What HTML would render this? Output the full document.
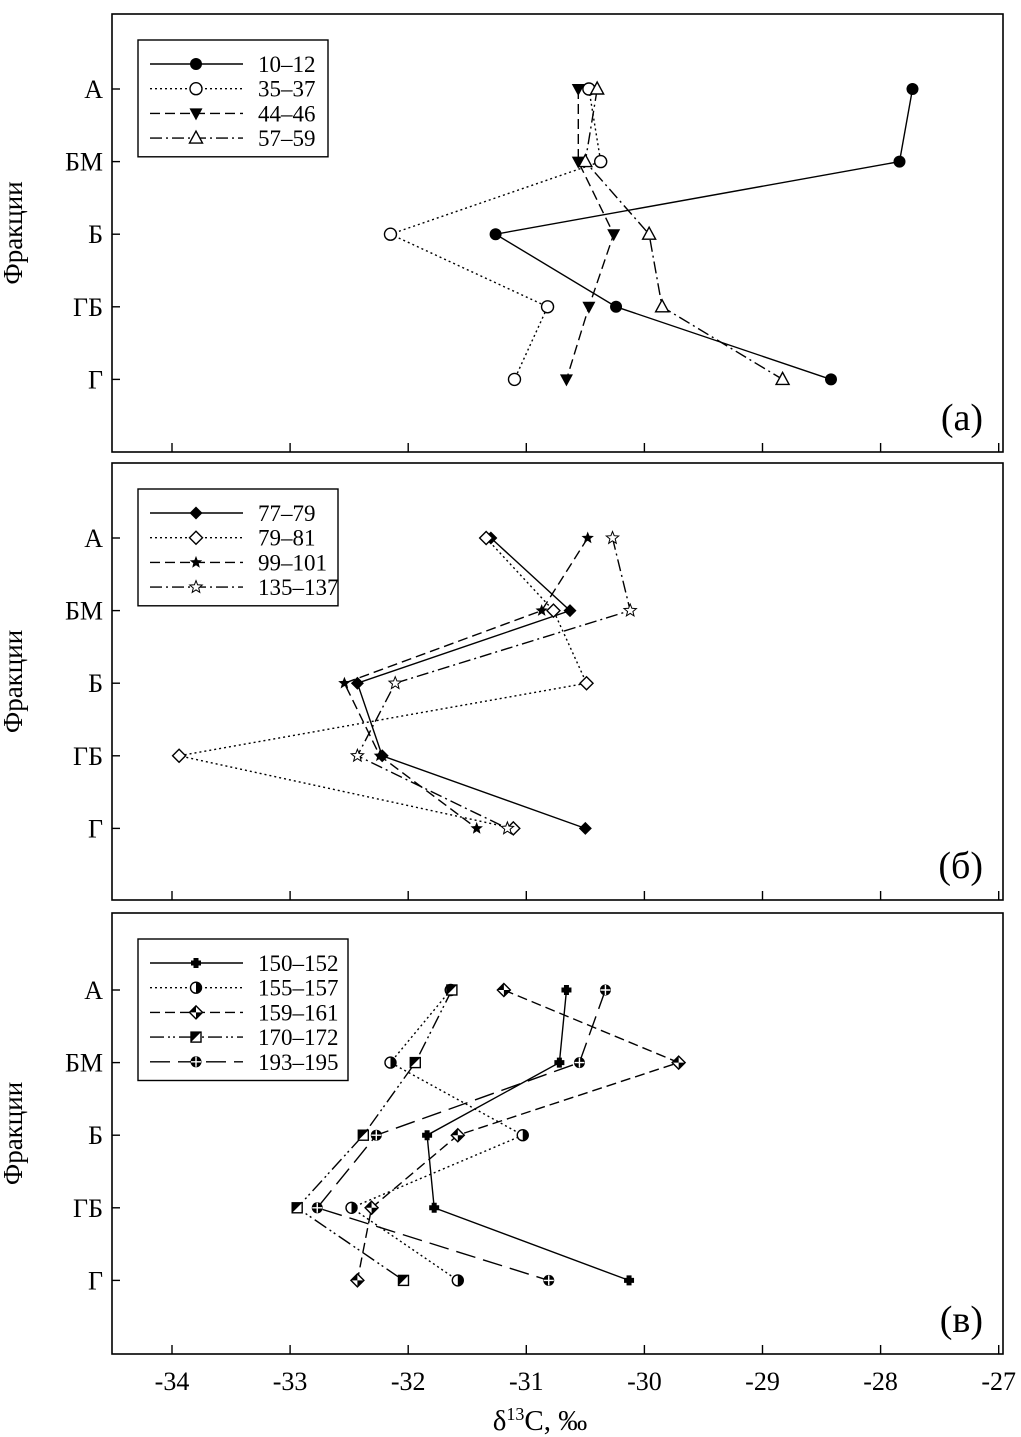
<!DOCTYPE html>
<html><head><meta charset="utf-8"><style>
html,body{margin:0;padding:0;background:#fff}
svg{display:block;font-family:"Liberation Serif",serif}
</style></head><body>
<svg id="chart" width="1021" height="1437" viewBox="0 0 1021 1437" xmlns="http://www.w3.org/2000/svg"></svg>
<script>
const fractions = ["А","БМ","Б","ГБ","Г"];
const xTicks = [-34,-33,-32,-31,-30,-29,-28,-27];
const panelLabels = ["(а)","(б)","(в)"];
const seriesA_names = ["10–12","35–37","44–46","57–59"];
const s10_12 = [-27.73,-27.84,-31.26,-30.24,-28.42];
const s35_37 = [-30.47,-30.37,-32.15,-30.82,-31.10];
const s44_46 = [-30.56,-30.56,-30.26,-30.47,-30.66];
const s57_59 = [-30.40,-30.50,-29.96,-29.85,-28.83];
const seriesB_names = ["77–79","79–81","99–101","135–137"];
const s77_79 = [-31.30,-30.63,-32.43,-32.22,-30.50];
const s79_81 = [-31.34,-30.77,-30.49,-33.94,-31.11];
const s99_101 = [-30.48,-30.87,-32.54,-32.24,-31.42];
const s135_137 = [-30.27,-30.12,-32.11,-32.43,-31.16];
const seriesC_names = ["150–152","155–157","159–161","170–172","193–195"];
const s150_152 = [-30.66,-30.72,-31.84,-31.78,-30.13];
const s155_157 = [-31.64,-32.15,-31.03,-32.48,-31.58];
const s159_161 = [-31.19,-29.71,-31.58,-32.31,-32.43];
const s170_172 = [-31.63,-31.94,-32.38,-32.94,-32.04];
const s193_195 = [-30.33,-30.55,-32.27,-32.77,-30.81];

const NS="http://www.w3.org/2000/svg";
const svg=document.getElementById('chart');
function mk(tag,attrs,parent){const e=document.createElementNS(NS,tag);for(const k in attrs)e.setAttribute(k,attrs[k]);(parent||svg).appendChild(e);return e;}
const X0=112,X1=1003;
function xs(v){return 172+(v+34)*118.1;}
const panels=[{top:14,bot:452,rowA:89},{top:463,bot:900,rowA:538},{top:913,bot:1354,rowA:990}];
const rowStep=72.6;

const styles={
 solid:"none",dot:"2,3",dash:"10,5",dashdot:"12,4,2,4",dashdotdot:"14,4,2,3,2,4",longdash:"20,8"
};
const panelSeries=[
 [{n:seriesA_names[0],d:s10_12,ls:"solid",m:"circleF"},{n:seriesA_names[1],d:s35_37,ls:"dot",m:"circleO"},{n:seriesA_names[2],d:s44_46,ls:"dash",m:"triDown"},{n:seriesA_names[3],d:s57_59,ls:"dashdot",m:"triUpO"}],
 [{n:seriesB_names[0],d:s77_79,ls:"solid",m:"diamF"},{n:seriesB_names[1],d:s79_81,ls:"dot",m:"diamO"},{n:seriesB_names[2],d:s99_101,ls:"dash",m:"starF"},{n:seriesB_names[3],d:s135_137,ls:"dashdot",m:"starO"}],
 [{n:seriesC_names[0],d:s150_152,ls:"solid",m:"plus"},{n:seriesC_names[1],d:s155_157,ls:"dot",m:"circleHalf"},{n:seriesC_names[2],d:s159_161,ls:"dash",m:"diamHalf"},{n:seriesC_names[3],d:s170_172,ls:"dashdotdot",m:"sqHalf"},{n:seriesC_names[4],d:s193_195,ls:"longdash",m:"circleX"}]
];
function marker(g,type,x,y){
 const s={stroke:"#000","stroke-width":1.4};
 function star(r1,r2){let p=[];for(let i=0;i<10;i++){const a=-Math.PI/2+i*Math.PI/5,r=i%2?r2:r1;p.push((x+r*Math.cos(a)).toFixed(1)+","+(y+r*Math.sin(a)).toFixed(1));}return p.join(" ");}
 switch(type){
 case"circleF":mk('circle',{cx:x,cy:y,r:6,fill:"#000"},g);break;
 case"circleO":mk('circle',{cx:x,cy:y,r:6,fill:"#fff",...s},g);break;
 case"triDown":mk('polygon',{points:`${x-6.5},${y-5} ${x+6.5},${y-5} ${x},${y+7}`,fill:"#000"},g);break;
 case"triUpO":mk('polygon',{points:`${x-6.5},${y+5} ${x+6.5},${y+5} ${x},${y-7}`,fill:"#fff",...s},g);break;
 case"diamF":mk('polygon',{points:`${x},${y-6.5} ${x+6.5},${y} ${x},${y+6.5} ${x-6.5},${y}`,fill:"#000"},g);break;
 case"diamO":mk('polygon',{points:`${x},${y-6.5} ${x+6.5},${y} ${x},${y+6.5} ${x-6.5},${y}`,fill:"#fff",...s},g);break;
 case"starF":mk('polygon',{points:star(6.5,2.8),fill:"#000"},g);break;
 case"starO":mk('polygon',{points:star(6.5,2.8),fill:"#fff",stroke:"#000","stroke-width":1},g);break;
 case"plus":mk('path',{d:`M${x-5} ${y}H${x+5}M${x} ${y-5}V${y+5}`,stroke:"#000","stroke-width":5},g);break;
 case"circleHalf":mk('circle',{cx:x,cy:y,r:5.5,fill:"#fff",...s},g);mk('path',{d:`M${x} ${y-5.5}A5.5 5.5 0 0 1 ${x} ${y+5.5}Z`,fill:"#000"},g);break;
 case"diamHalf":mk('polygon',{points:`${x},${y-6.5} ${x+6.5},${y} ${x},${y+6.5} ${x-6.5},${y}`,fill:"#fff",...s},g);mk('polygon',{points:`${x},${y-6.5} ${x-6.5},${y} ${x},${y}`,fill:"#000"},g);mk('polygon',{points:`${x},${y+6.5} ${x+6.5},${y} ${x},${y}`,fill:"#000"},g);break;
 case"sqHalf":mk('rect',{x:x-5,y:y-5,width:10,height:10,fill:"#fff",...s},g);mk('polygon',{points:`${x-5},${y-5} ${x+5},${y-5} ${x-5},${y+5}`,fill:"#000"},g);break;
 case"circleX":mk('circle',{cx:x,cy:y,r:5.5,fill:"#000"},g);mk('path',{d:`M${x-5} ${y}H${x+5}M${x} ${y-5}V${y+5}`,stroke:"#fff","stroke-width":1.4},g);break;
 }
}
const panelNames=["panel-a","panel-b","panel-c"];
panels.forEach((p,pi)=>{
 const g=mk('g',{});
 
 
 const frame=mk('rect',{x:X0,y:p.top,width:X1-X0,height:p.bot-p.top,fill:"none",stroke:"#000","stroke-width":1.6},g);
 
 
 xTicks.forEach(t=>{const l=mk('line',{x1:xs(t),x2:xs(t),y1:p.bot,y2:p.bot-9,stroke:"#000","stroke-width":1.4},g);
  
  });
 fractions.forEach((f,i)=>{const y=p.rowA+i*rowStep;
  mk('line',{x1:X0,x2:X0+8,y1:y,y2:y,stroke:"#000","stroke-width":1.4},g);
  const tx=mk('text',{x:103,y:y+9,"text-anchor":"end","font-size":26},g);tx.textContent=f;
  
  });
 const yt=mk('text',{x:0,y:0,transform:`translate(22,${(p.top+p.bot)/2}) rotate(-90)`,"text-anchor":"middle","font-size":27},g);yt.textContent="Фракции";
 
 
 const pl=mk('text',{x:983,y:p.bot-22,"text-anchor":"end","font-size":38},g);pl.textContent=panelLabels[pi];
 
 
 const ser=panelSeries[pi];
 ser.forEach(s=>{
  const sg=mk('g',{},g);
  
  
  const pts=s.d.map((v,i)=>xs(v).toFixed(1)+","+(p.rowA+i*rowStep).toFixed(1)).join(" ");
  const pl2=mk('polyline',{points:pts,fill:"none",stroke:"#000","stroke-width":1.4,"stroke-dasharray":styles[s.ls]},sg);
  
  
  s.d.forEach((v,i)=>marker(sg,s.m,xs(v),p.rowA+i*rowStep));
 });
 // legend
 const lw=[190,200,210][pi], n=ser.length, lh=n*24.7+18;
 const lg=mk('g',{},g);
 
 
 mk('rect',{x:138,y:p.top+26,width:lw,height:lh,fill:"#fff",stroke:"#000","stroke-width":1.4},lg);
 ser.forEach((s,i)=>{const y=p.top+50+i*24.7;
  const e=mk('g',{},lg);
  
  
  mk('line',{x1:150,x2:243,y1:y,y2:y,stroke:"#000","stroke-width":1.4,"stroke-dasharray":styles[s.ls]},e);
  marker(e,s.m,196,y);
  const t=mk('text',{x:258,y:y+8,"font-size":23},e);t.textContent=s.n;});
});
xTicks.forEach(t=>{const tx=mk('text',{x:xs(t),y:1390,"text-anchor":"middle","font-size":26});tx.textContent=String(t).replace('-','-');
 
 });
const xt=mk('text',{x:540,y:1430,"text-anchor":"middle","font-size":29});
xt.innerHTML='δ<tspan baseline-shift="super" font-size="18">13</tspan>C, ‰';


</script>
</body></html>
